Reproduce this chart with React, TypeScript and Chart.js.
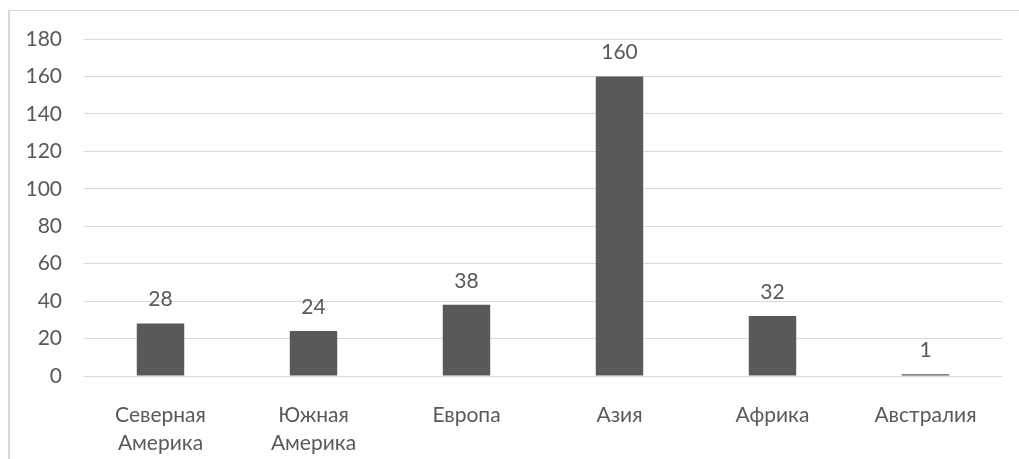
import React, { useEffect, useRef } from "react";
import { Chart, registerables } from "chart.js";

Chart.register(...registerables);

const categories: string[][] = [
  ["Северная", "Америка"],
  ["Южная", "Америка"],
  ["Европа"],
  ["Азия"],
  ["Африка"],
  ["Австралия"],
];
const values: number[] = [28, 24, 38, 160, 32, 1];
const yMin = 0;
const yMax = 180;
const yStep = 20;

const FONT = "Lato, 'Open Sans', sans-serif";
const TEXT = "#595959";
const BAR = "#595959";
const GRID = "#d9d9d9";

const labelPlugin = {
  id: "barLabels",
  afterDatasetsDraw(chart: any) {
    const ctx = chart.ctx;
    const meta = chart.getDatasetMeta(0);
    ctx.save();
    ctx.fillStyle = TEXT;
    ctx.font = `21px ${FONT}`;
    ctx.textAlign = "center";
    ctx.textBaseline = "middle";
    meta.data.forEach((el: any, i: number) => {
      ctx.fillText(String(values[i]), el.x, el.y - 24);
    });
    ctx.restore();
  },
};

export default function App() {
  const ref = useRef<HTMLCanvasElement | null>(null);
  useEffect(() => {
    if (!ref.current) return;
    const chart = new Chart(ref.current, {
      type: "bar",
      data: {
        labels: categories,
        datasets: [
          {
            data: values,
            backgroundColor: BAR,
            borderWidth: 0,
            barPercentage: 0.31,
            categoryPercentage: 1,
          },
        ],
      },
      options: {
        animation: false,
        responsive: false,
        maintainAspectRatio: false,
        layout: { padding: { left: 0, right: 17, top: 39, bottom: 0 } },
        plugins: { legend: { display: false }, tooltip: { enabled: false } },
        scales: {
          x: {
            grid: { display: false, drawTicks: false },
            border: { display: false },
            ticks: {
              color: TEXT,
              font: { family: FONT, size: 21, lineHeight: 1.33 },
              padding: 25,
              maxRotation: 0,
              autoSkip: false,
            },
            afterFit(scale: any) {
              scale.height = 83;
            },
          },
          y: {
            min: yMin,
            max: yMax,
            grid: { color: GRID, lineWidth: 1, drawTicks: false },
            border: { display: false },
            ticks: {
              stepSize: yStep,
              color: TEXT,
              font: { family: FONT, size: 21 },
              padding: 22,
            },
            afterFit(scale: any) {
              scale.width = 84;
            },
          },
        },
      },
      plugins: [labelPlugin],
    });
    return () => chart.destroy();
  }, []);

  return (
    <div style={{ position: "absolute", left: 0, top: 0, width: 1019, height: 459, background: "#fff", overflow: "hidden" }}>
      <div
        style={{
          position: "absolute",
          left: 8,
          top: 10,
          width: 1019,
          height: 459,
          borderLeft: `2px solid ${GRID}`,
          borderTop: `1px solid ${GRID}`,
        }}
      />
      <canvas ref={ref} width={1019} height={459} style={{ position: "absolute", left: 0, top: 0 }} />
    </div>
  );
}
